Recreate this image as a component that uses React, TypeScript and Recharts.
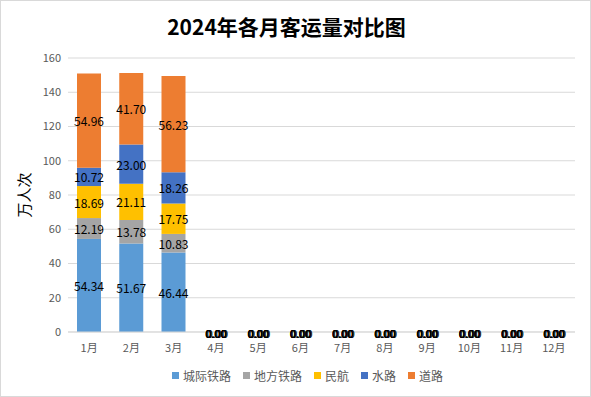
import React from 'react';
import { ComposedChart, Bar, Line, XAxis, YAxis, CartesianGrid, Legend, LabelList } from 'recharts';

const months = ['1月', '2月', '3月', '4月', '5月', '6月', '7月', '8月', '9月', '10月', '11月', '12月'];
const intercityRail = [54.34, 51.67, 46.44, 0, 0, 0, 0, 0, 0, 0, 0, 0];
const localRail = [12.19, 13.78, 10.83, 0, 0, 0, 0, 0, 0, 0, 0, 0];
const aviation = [18.69, 21.11, 17.75, 0, 0, 0, 0, 0, 0, 0, 0, 0];
const waterway = [10.72, 23.0, 18.26, 0, 0, 0, 0, 0, 0, 0, 0, 0];
const road = [54.96, 41.7, 56.23, 0, 0, 0, 0, 0, 0, 0, 0, 0];
const yTicks = [0, 20, 40, 60, 80, 100, 120, 140, 160];

const seriesDefs = [
  { key: '城际铁路', values: intercityRail, color: '#5B9BD5', shift: 0 },
  { key: '地方铁路', values: localRail, color: '#A5A5A5', shift: 1.5 },
  { key: '民航', values: aviation, color: '#FFC000', shift: 0 },
  { key: '水路', values: waterway, color: '#4472C4', shift: 0.5 },
  { key: '道路', values: road, color: '#ED7D31', shift: 0 },
];

const data = months.map((m, i) => {
  const row: Record<string, string | number> = { month: m };
  seriesDefs.forEach((s) => {
    row[s.key] = s.values[i];
  });
  return row;
});

const FONT = '"Noto Sans CJK SC", "Noto Sans", sans-serif';

const renderLabel = (props: any) => {
  const { x, y, width, height, value } = props;
  if (value === undefined || value === null || Number(value) === 0) return null;
  const cx = Number(x) + Number(width) / 2;
  const cy = Number(y) + Number(height) / 2;
  return (
    <text x={cx} y={cy} textAnchor="middle" dominantBaseline="central" fill="#000" fontSize={12}>
      {Number(value).toFixed(2)}
    </text>
  );
};

const makeZeroLabel = (shift: number) => (props: any) => {
  const { x, y, value } = props;
  if (value === undefined || value === null) return null;
  return (
    <text
      x={Number(x) + shift}
      y={Number(y) + 1}
      textAnchor="middle"
      dominantBaseline="central"
      fill="#000"
      fontSize={11}
    >
      {Number(value).toFixed(2)}
    </text>
  );
};

const renderLegend = () => (
  <div
    style={{
      display: 'flex',
      justifyContent: 'center',
      alignItems: 'center',
      gap: 12,
      fontSize: 12,
      color: '#595959',
      paddingLeft: 40,
    }}
  >
    {seriesDefs.map((s) => (
      <span key={s.key} style={{ display: 'inline-flex', alignItems: 'center' }}>
        <span style={{ display: 'inline-block', width: 7, height: 7, background: s.color, marginRight: 4 }} />
        {s.key}
      </span>
    ))}
  </div>
);

export default function App() {
  return (
    <div
      style={{
        position: 'absolute',
        left: 0,
        top: 0,
        width: 591,
        height: 397,
        boxSizing: 'border-box',
        border: '1px solid #D9D9D9',
        background: '#fff',
        fontFamily: FONT,
      }}
    >
      <div
        style={{
          position: 'absolute',
          top: 10,
          left: 0,
          width: 571,
          textAlign: 'center',
          fontSize: 21,
          fontWeight: 'bold',
          color: '#000',
          lineHeight: '30px',
        }}
      >
        2024年各月客运量对比图
      </div>
      <div style={{ position: 'absolute', left: -1, top: -1 }}>
        <ComposedChart
          width={591}
          height={397}
          data={data}
          margin={{ top: 58, right: 16, left: 0, bottom: 10 }}
          style={{ fontFamily: FONT }}
        >
          <CartesianGrid vertical={false} stroke="#D9D9D9" />
          <XAxis
            dataKey="month"
            height={35}
            tickLine={false}
            axisLine={{ stroke: '#D9D9D9' }}
            tick={{ fill: '#595959', fontSize: 11 }}
            tickMargin={6}
            interval={0}
          />
          <YAxis
            width={68}
            domain={[0, 160]}
            ticks={yTicks}
            tickLine={false}
            axisLine={false}
            tick={{ fill: '#595959', fontSize: 11 }}
            tickMargin={1}
            label={{
              value: '万人次',
              angle: -90,
              position: 'center',
              dx: -9,
              style: { fill: '#000', fontSize: 15, textAnchor: 'middle' },
            }}
          />
          <Legend verticalAlign="bottom" height={20} content={renderLegend} />
          {seriesDefs.map((s) => (
            <Bar key={s.key} dataKey={s.key} stackId="a" fill={s.color} barSize={24} isAnimationActive={false}>
              <LabelList dataKey={s.key} content={renderLabel} />
            </Bar>
          ))}
          {seriesDefs.map((s) => (
            <Line
              key={'z' + s.key}
              dataKey={(d: any) => (Number(d[s.key]) === 0 ? 0 : null)}
              stroke="none"
              dot={false}
              activeDot={false}
              legendType="none"
              isAnimationActive={false}
            >
              <LabelList content={makeZeroLabel(s.shift)} />
            </Line>
          ))}
        </ComposedChart>
      </div>
    </div>
  );
}
